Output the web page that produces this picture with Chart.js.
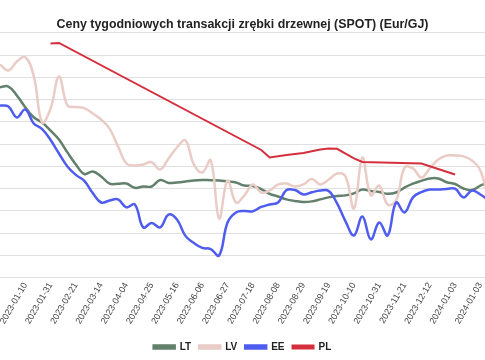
<!DOCTYPE html>
<html>
<head>
<meta charset="utf-8">
<script src="https://cdn.jsdelivr.net/npm/chart.js@4"></script>
<style>
  html, body { margin: 0; padding: 0; background: #fff; }
  #wrap { position: relative; width: 485px; height: 360px; }
</style>
</head>
<body>
<div id="wrap"><canvas id="chart"></canvas></div>
<script>
// --- Data (weekly, index 0 = first visible week) ---
const tickLabels = [
    '2023-01-10', '2023-01-31', '2023-02-21', '2023-03-14', '2023-04-04',
    '2023-04-25', '2023-05-16', '2023-06-06', '2023-06-27', '2023-07-18',
    '2023-08-08', '2023-08-29', '2023-09-19', '2023-10-10', '2023-10-31',
    '2023-11-21', '2023-12-12', '2024-01-03', '2024-01-03'
];
const tickWeeks = [3, 6, 9, 12, 15, 18, 21, 24, 27, 30, 33, 36, 39, 42, 45, 48, 51, 54, 57];

const LT = [
    8.56, 8.59, 8.19, 7.66, 7.21, 6.97, 6.61, 6.21, 5.63, 5.09,
    4.66, 4.77, 4.55, 4.23, 4.22, 4.23, 4.04, 4.10, 4.10, 4.39,
    4.26, 4.28, 4.32, 4.37, 4.39, 4.38, 4.37, 4.32, 4.28, 4.14,
    4.12, 3.98, 3.77, 3.65, 3.52, 3.45, 3.40, 3.43, 3.52, 3.61,
    3.67, 3.70, 3.79, 3.96, 3.90, 3.85, 3.77, 3.83, 4.05, 4.23,
    4.35, 4.46, 4.46, 4.29, 4.21, 4.01, 3.94, 4.14, 4.28
];
const LV = [
    9.58, 9.31, 9.71, 9.91, 9.08, 6.97, 7.60, 9.04, 7.74, 7.67,
    7.62, 7.38, 7.11, 6.70, 5.90, 5.13, 5.04, 5.09, 5.19, 4.86,
    5.36, 5.85, 6.17, 5.09, 4.73, 5.27, 2.66, 4.37, 3.38, 3.70,
    4.19, 3.83, 3.92, 4.19, 4.23, 4.10, 4.19, 4.44, 4.19, 4.41,
    4.68, 4.55, 3.11, 5.40, 3.70, 4.14, 3.29, 3.47, 4.95, 4.91,
    4.50, 4.91, 5.31, 5.49, 5.49, 5.45, 5.27, 4.82, 3.47
];
const EE = [
    7.74, 7.69, 7.20, 7.56, 6.93, 6.68, 6.19, 5.58, 5.00, 4.62,
    4.35, 3.81, 3.38, 3.47, 3.52, 3.16, 3.29, 2.26, 2.46, 2.26,
    2.84, 2.62, 1.88, 1.56, 1.34, 1.29, 1.00, 2.48, 2.93, 3.00,
    2.99, 3.18, 3.29, 3.38, 3.94, 3.94, 3.74, 3.84, 3.92, 3.90,
    3.34, 2.53, 1.90, 2.75, 1.72, 2.48, 1.90, 3.38, 2.93, 3.61,
    3.85, 3.96, 3.96, 3.99, 4.00, 3.61, 3.92, 3.74, 3.47
];
// PL is only quoted on some weeks
const PL = [
    null, null, null, null, null, null, 10.52, 10.55, null, null,
    null, null, null, null, null, null, null, null, null, null,
    null, null, null, null, null, null, null, null, null, null,
    null, 5.74, 5.40, null, 5.51, null, 5.60, null, 5.76, 5.81,
    5.79, 5.58, 5.36, 5.20, null, null, null, null, null, null,
    5.13, null, null, null, 4.64, null, null, null, null
];

const COLORS = {
    LT: '#62806b',
    LV: '#eaccc6',
    EE: '#4f5cf0',
    PL: '#d52f3e'
};

function toPoints(arr) {
    return arr.map((v, i) => ({ x: i, y: v })).filter(p => p.y !== null);
}

function makeSet(label, arr, order, width, tension) {
    return {
        label: label,
        data: toPoints(arr),
        borderColor: COLORS[label],
        backgroundColor: COLORS[label],
        borderWidth: width,
        pointRadius: 0,
        tension: tension,
        order: order
    };
}

const ctx = document.getElementById('chart').getContext('2d');
new Chart(ctx, {
    type: 'line',
    data: {
        datasets: [
            makeSet('LT', LT, 4, 2.5, 0.4),
            makeSet('LV', LV, 3, 2.5, 0.4),
            makeSet('EE', EE, 2, 2.5, 0.4),
            makeSet('PL', PL, 1, 2, 0)
        ]
    },
    options: {
        responsive: true,
        maintainAspectRatio: false,
        animation: false,
        layout: { padding: { left: 0, right: 0, top: 0, bottom: -2 } },
        plugins: {
            title: {
                display: true,
                text: 'Ceny tygodniowych transakcji zrębki drzewnej (SPOT) (Eur/GJ)',
                color: '#222',
                font: { family: 'Liberation Sans, Arial, sans-serif', size: 12.4, weight: 'bold' },
                padding: { top: 17, bottom: 1 }
            },
            legend: {
                position: 'bottom',
                labels: {
                    color: '#222',
                    font: { family: 'Liberation Sans, Arial, sans-serif', size: 10, weight: 'bold' },
                    boxWidth: 21,
                    boxHeight: 3,
                    padding: 8,
                    sort: (a, b) => a.datasetIndex - b.datasetIndex
                }
            },
            tooltip: { enabled: false }
        },
        scales: {
            x: {
                type: 'linear',
                min: 0,
                max: 57.55,
                grid: { display: false },
                border: { display: false },
                afterBuildTicks: (scale) => {
                    scale.ticks = tickWeeks.map(v => ({ value: v }));
                },
                afterFit: (scale) => {
                    scale.height += 13;
                    scale.paddingLeft = 0;
                    scale.paddingRight = 0;
                },
                ticks: {
                    autoSkip: false,
                    minRotation: 60,
                    maxRotation: 60,
                    padding: -5,
                    color: '#444',
                    font: { family: 'Liberation Sans, Arial, sans-serif', size: 9 },
                    callback: (value, index) => tickLabels[index]
                }
            },
            y: {
                min: 0,
                max: 11,
                grid: { color: '#e0e0e0', drawTicks: false },
                border: { display: false },
                ticks: { display: false, stepSize: 1 }
            }
        }
    }
});
</script>
</body>
</html>
